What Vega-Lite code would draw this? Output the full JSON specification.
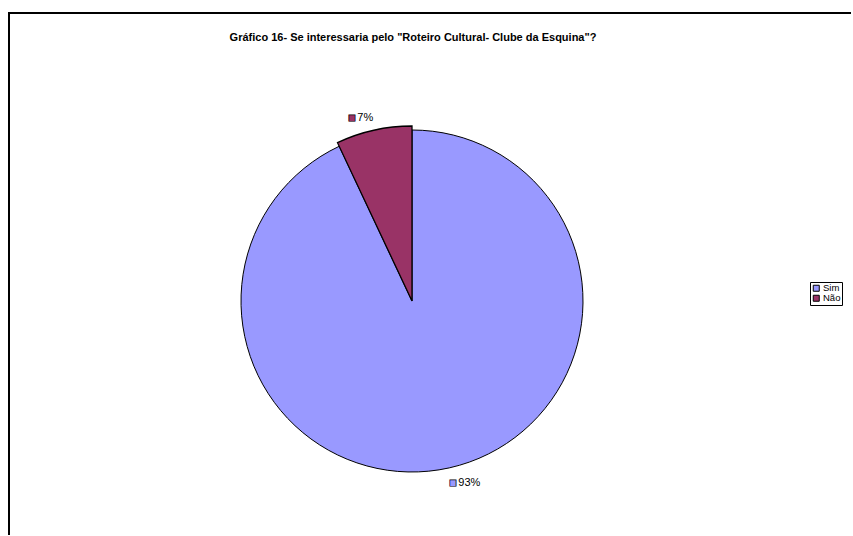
{
  "$schema": "https://vega.github.io/schema/vega-lite/v6.json",
  "width": 846,
  "height": 526,
  "autosize": {"type": "none"},
  "padding": {"left": 9, "top": 13, "right": -4, "bottom": -4},
  "background": "white",
  "view": {"stroke": "black", "strokeWidth": 2},
  "config": {
    "view": {"stroke": "black", "strokeWidth": 2},
    "font": "Liberation Sans"
  },
  "title": {
    "text": "Gráfico 16- Se interessaria pelo \"Roteiro Cultural- Clube da Esquina\"?",
    "fontSize": 11,
    "fontWeight": "bold",
    "font": "Liberation Sans",
    "color": "black",
    "anchor": "middle",
    "frame": "group",
    "baseline": "alphabetic",
    "offset": 0,
    "dx": -19,
    "dy": 39
  },
  "data": {
    "values": [
      {"resposta": "Sim", "percentual": 0.93},
      {"resposta": "Não", "percentual": 0.07}
    ]
  },
  "encoding": {
    "theta": {"field": "percentual", "type": "quantitative", "stack": true},
    "order": {"field": "percentual", "sort": "descending"},
    "color": {
      "field": "resposta",
      "type": "nominal",
      "scale": {"domain": ["Sim", "Não"], "range": ["#9999FF", "#993366"]},
      "legend": {
        "orient": "none",
        "legendX": 801,
        "legendY": 269,
        "title": null,
        "strokeColor": "black",
        "padding": 1.5,
        "fillColor": "white",
        "symbolType": "square",
        "symbolSize": 36,
        "symbolStrokeColor": "black",
        "symbolStrokeWidth": 1,
        "labelFontSize": 9.5,
        "labelFont": "Liberation Sans",
        "labelColor": "black",
        "rowPadding": -1,
        "labelOffset": 2
      }
    }
  },
  "layer": [
    {
      "mark": {"type": "arc", "radius": 171, "x": 403, "y": 288, "stroke": "black", "strokeWidth": 1},
      "encoding": {
        "opacity": {"condition": {"test": "datum.resposta === 'Não'", "value": 0}, "value": 1}
      }
    },
    {
      "mark": {"type": "arc", "radius": 175, "x": 403, "y": 288, "stroke": "black", "strokeWidth": 1.3},
      "encoding": {
        "opacity": {"condition": {"test": "datum.resposta === 'Não'", "value": 1}, "value": 0}
      }
    },
    {
      "mark": {"type": "text", "radius": 186.5, "x": 403, "y": 288, "align": "left", "baseline": "middle", "dx": 5.6, "fontSize": 11, "font": "Liberation Sans"},
      "encoding": {
        "color": {"value": "black"},
        "detail": {"field": "resposta"},
        "text": {"condition": {"test": "datum.resposta === 'Sim'", "field": "percentual", "format": ".0%"}, "value": ""}
      }
    },
    {
      "mark": {"type": "text", "radius": 186.5, "x": 403, "y": 288, "align": "left", "baseline": "middle", "dx": -3.8, "fontSize": 13, "font": "Liberation Sans", "stroke": "black", "strokeWidth": 0.7},
      "encoding": {
        "text": {"condition": {"test": "datum.resposta === 'Sim'", "value": "■"}, "value": ""}
      }
    },
    {
      "mark": {"type": "text", "radius": 188, "x": 403, "y": 288, "align": "right", "baseline": "middle", "dx": 2.2, "fontSize": 11, "font": "Liberation Sans"},
      "encoding": {
        "color": {"value": "black"},
        "detail": {"field": "resposta"},
        "text": {"condition": {"test": "datum.resposta === 'Não'", "field": "percentual", "format": ".0%"}, "value": ""}
      }
    },
    {
      "mark": {"type": "text", "radius": 188, "x": 403, "y": 288, "align": "right", "baseline": "middle", "dx": -15.2, "fontSize": 13, "font": "Liberation Sans", "stroke": "black", "strokeWidth": 0.7},
      "encoding": {
        "text": {"condition": {"test": "datum.resposta === 'Não'", "value": "■"}, "value": ""}
      }
    }
  ]
}
